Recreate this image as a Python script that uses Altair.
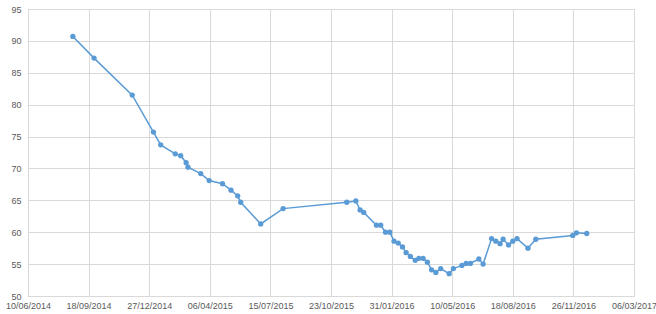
import altair as alt
import pandas as pd

dates = [
    "2014-08-23", "2014-09-27", "2014-11-29", "2015-01-03", "2015-01-15",
    "2015-02-08", "2015-02-17", "2015-02-26", "2015-03-01", "2015-03-22",
    "2015-04-05", "2015-04-27", "2015-05-11", "2015-05-22", "2015-05-27",
    "2015-06-29", "2015-08-05", "2015-11-18", "2015-12-03", "2015-12-10",
    "2015-12-16", "2016-01-06", "2016-01-13", "2016-01-21", "2016-01-28",
    "2016-02-04", "2016-02-11", "2016-02-18", "2016-02-24", "2016-03-02",
    "2016-03-10", "2016-03-16", "2016-03-23", "2016-03-30", "2016-04-06",
    "2016-04-13", "2016-04-21", "2016-05-05", "2016-05-12", "2016-05-26",
    "2016-06-02", "2016-06-09", "2016-06-23", "2016-06-30", "2016-07-14",
    "2016-07-21", "2016-07-28", "2016-08-02", "2016-08-11", "2016-08-18",
    "2016-08-25", "2016-09-12", "2016-09-25", "2016-11-25", "2016-12-01",
    "2016-12-18",
]
values = [
    90.7, 87.3, 81.5, 75.7, 73.7,
    72.3, 72.0, 70.9, 70.2, 69.2,
    68.1, 67.6, 66.6, 65.7, 64.7,
    61.3, 63.7, 64.7, 64.9, 63.5,
    63.1, 61.1, 61.1, 60.0, 60.0,
    58.6, 58.3, 57.7, 56.8, 56.2,
    55.6, 55.9, 55.9, 55.3, 54.1,
    53.7, 54.3, 53.5, 54.3, 54.8,
    55.1, 55.1, 55.8, 55.0, 59.0,
    58.6, 58.2, 58.9, 58.0, 58.6,
    59.0, 57.5, 58.9, 59.5, 59.9,
    59.8,
]
tick_dates = [
    (2014, 6, 10), (2014, 9, 18), (2014, 12, 27), (2015, 4, 6), (2015, 7, 15),
    (2015, 10, 23), (2016, 1, 31), (2016, 5, 10), (2016, 8, 18), (2016, 11, 26),
    (2017, 3, 6),
]
y_ticks = [50, 55, 60, 65, 70, 75, 80, 85, 90, 95]

df = pd.DataFrame({"date": dates, "value": values})

tick_vals = [alt.DateTime(year=y, month=m, date=d, utc=True) for (y, m, d) in tick_dates]
x_domain = [tick_vals[0], tick_vals[-1]]

color = "#5B9BD5"
label_color = "#595959"
grid_color = "#D9D9D9"

x_enc = alt.X(
    "date:T",
    scale=alt.Scale(type="utc", domain=x_domain, nice=False),
    axis=alt.Axis(
        values=tick_vals, format="%d/%m/%Y", title=None,
        grid=True, gridColor=grid_color, gridWidth=1,
        domainColor=grid_color, ticks=False,
        labelColor=label_color, labelFontSize=9, labelFont="Liberation Sans",
        labelPadding=5, labelOverlap=False, labelFlush=False,
    ),
)
y_enc = alt.Y(
    "value:Q",
    scale=alt.Scale(domain=[50, 95], nice=False, zero=False),
    axis=alt.Axis(
        values=y_ticks, title=None,
        grid=True, gridColor=grid_color, gridWidth=1,
        domainColor=grid_color, ticks=False,
        labelColor=label_color, labelFontSize=9, labelFont="Liberation Sans",
        labelPadding=7,
    ),
)

line = alt.Chart(df).mark_line(color=color, strokeWidth=1.5).encode(x=x_enc, y=y_enc)
pts = alt.Chart(df).mark_circle(color=color, size=28, opacity=1).encode(x=x_enc, y=y_enc)

chart = (
    alt.layer(line, pts)
    .properties(
        width=606, height=287,
        autosize=alt.AutoSizeParams(type="none"),
        padding={"left": 28, "top": 9, "right": 22, "bottom": 18},
    )
    .configure_view(stroke=None)
    .configure(background="white")
)

chart.save("out.html", embed_options={"renderer": "svg", "actions": False})
